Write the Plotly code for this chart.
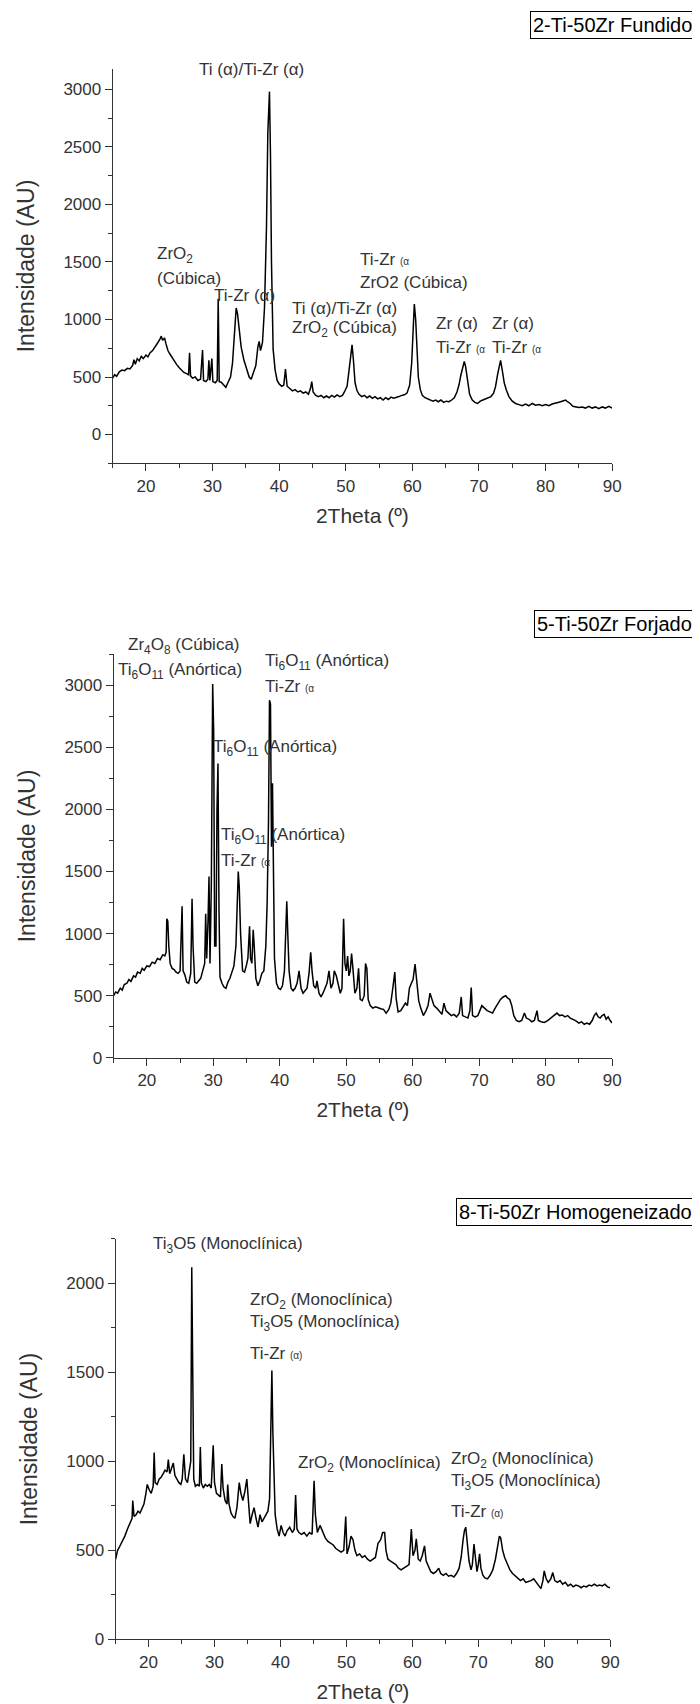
import plotly.graph_objects as go

# ---------------- data ----------------
tt_fundido = [15.0,15.3,15.6,16.0,16.4,16.8,17.2,17.6,18.0,18.2,18.4,18.7,19.0,19.3,19.6,20.0,20.3,20.6,21.0,21.4,21.8,22.1,22.3,22.5,22.8,23.0,23.3,23.6,24.0,24.3,24.6,25.0,25.3,25.7,26.1,26.4,26.55,26.7,27.0,27.4,27.8,28.2,28.5,28.65,29.0,29.3,29.45,29.6,29.9,30.05,30.4,30.7,30.85,31.0,31.3,31.7,32.0,32.3,32.7,33.0,33.3,33.55,33.75,34.0,34.3,34.7,35.1,35.5,35.8,36.2,36.5,36.8,37.0,37.2,37.5,37.8,38.1,38.3,38.45,38.55,38.7,38.85,39.1,39.4,39.7,40.0,40.4,40.7,40.95,41.2,41.6,42.0,42.4,42.8,43.2,43.6,44.0,44.4,44.7,44.9,45.1,45.5,45.9,46.3,46.7,47.1,47.5,47.9,48.3,48.7,49.1,49.5,49.8,50.2,50.5,50.8,50.95,51.15,51.4,51.7,52.0,52.4,52.8,53.2,53.6,54.0,54.4,54.8,55.2,55.6,56.0,56.4,56.8,57.2,57.6,58.0,58.4,58.8,59.2,59.6,59.9,60.15,60.3,60.5,60.7,60.9,61.2,61.5,61.9,62.3,62.7,63.1,63.5,63.9,64.3,64.7,65.1,65.5,65.9,66.3,66.7,67.0,67.3,67.6,67.8,68.0,68.3,68.6,69.0,69.4,69.8,70.2,70.6,71.0,71.4,71.8,72.2,72.5,72.8,73.1,73.25,73.5,73.8,74.1,74.5,75.0,75.5,76.0,76.5,77.0,77.5,78.0,78.5,79.0,79.5,80.0,80.5,81.0,81.5,82.0,82.5,83.0,83.3,83.7,84.1,84.5,85.0,85.5,86.0,86.5,87.0,87.5,88.0,88.5,89.0,89.5,90.0]
int_fundido = [490,520,505,545,560,555,575,570,600,650,610,660,640,680,660,690,675,710,730,760,800,830,855,820,840,790,730,700,660,630,610,580,560,540,530,520,710,510,490,500,470,480,735,470,460,480,645,470,660,460,450,470,1180,460,455,430,410,450,500,620,850,1100,1050,900,760,650,580,500,480,540,600,760,810,730,800,1100,1800,2620,2880,2980,2430,1500,740,560,470,440,420,430,570,420,400,380,390,370,380,360,370,350,400,460,370,340,330,340,320,335,320,340,325,345,330,340,370,420,560,700,780,650,450,380,350,330,340,320,335,315,330,310,320,300,320,305,325,315,320,330,340,345,360,430,620,950,1135,1000,700,500,390,340,320,310,300,290,300,285,300,280,290,285,300,320,370,430,520,600,635,590,450,350,300,280,270,290,300,310,320,330,360,420,520,620,645,560,450,390,330,290,270,260,250,265,250,270,255,260,250,260,250,265,270,280,290,300,285,270,245,240,235,240,230,245,230,240,225,240,230,245,230]

tt_forjado = [15.0,15.3,15.6,16.0,16.3,16.6,17.0,17.3,17.6,18.0,18.3,18.6,19.0,19.3,19.6,20.0,20.4,20.8,21.2,21.6,22.0,22.4,22.7,22.9,23.0,23.15,23.3,23.5,23.8,24.1,24.4,24.7,25.0,25.15,25.3,25.45,25.7,26.0,26.3,26.6,26.8,26.95,27.2,27.5,27.8,28.1,28.4,28.7,28.85,29.0,29.2,29.35,29.5,29.7,29.9,30.05,30.2,30.4,30.55,30.7,30.85,31.0,31.3,31.6,31.9,32.2,32.5,32.8,33.1,33.4,33.6,33.75,33.9,34.1,34.4,34.7,35.0,35.2,35.45,35.6,35.8,36.0,36.15,36.4,36.7,37.0,37.3,37.6,37.9,38.1,38.3,38.45,38.6,38.75,38.9,39.05,39.2,39.5,39.8,40.1,40.4,40.7,40.9,41.05,41.2,41.4,41.7,42.0,42.3,42.6,42.9,43.2,43.5,43.8,44.1,44.4,44.65,44.85,45.1,45.4,45.6,45.9,46.2,46.5,46.8,47.1,47.4,47.7,48.0,48.2,48.5,48.8,49.1,49.35,49.6,49.8,50.0,50.2,50.4,50.6,50.8,51.0,51.3,51.6,51.85,52.1,52.4,52.7,52.9,53.1,53.3,53.6,54.0,54.4,54.8,55.2,55.6,56.0,56.4,56.7,57.0,57.3,57.5,57.8,58.2,58.6,58.9,59.2,59.5,59.8,60.05,60.35,60.6,60.9,61.2,61.6,62.0,62.3,62.6,62.9,63.2,63.6,64.0,64.4,64.7,65.0,65.4,65.8,66.2,66.6,67.0,67.3,67.5,67.9,68.3,68.6,68.8,69.0,69.4,69.8,70.1,70.4,70.8,71.2,71.6,72.0,72.4,72.8,73.2,73.6,74.0,74.3,74.6,74.9,75.2,75.6,76.0,76.4,76.8,77.1,77.5,77.9,78.3,78.7,78.9,79.3,79.8,80.3,80.8,81.3,81.7,82.1,82.5,82.9,83.3,83.7,84.1,84.5,85.0,85.4,85.8,86.2,86.6,87.0,87.3,87.6,87.9,88.2,88.5,88.8,89.1,89.4,89.7,90.0]
int_forjado = [500,530,520,560,545,590,600,630,615,660,650,690,680,720,705,740,735,770,760,800,790,830,820,850,1120,1100,900,760,720,710,690,680,700,1050,1220,700,670,610,600,680,1280,900,610,600,620,640,700,760,1160,800,1100,1460,760,1400,3010,2640,900,900,2000,2370,1200,650,600,570,560,610,640,700,740,900,1250,1500,1380,1000,700,690,750,800,1060,800,760,1030,900,640,580,620,680,700,900,1250,1900,2880,2850,1700,2210,1500,800,600,560,550,580,700,1050,1261,1000,700,560,540,560,600,700,560,520,540,560,680,850,700,580,560,620,520,490,520,560,600,700,560,600,700,660,600,520,560,1120,760,700,820,660,700,840,720,520,560,720,470,460,500,760,720,470,420,400,410,400,395,390,360,390,440,560,690,480,370,380,420,440,420,560,600,630,755,610,460,400,340,380,420,520,460,420,400,370,350,440,380,360,340,350,330,360,490,340,330,320,380,565,340,330,340,380,420,400,380,370,360,400,440,470,490,500,480,470,420,340,300,290,300,360,320,310,290,300,380,300,290,285,300,320,340,360,340,345,330,340,320,310,300,280,290,270,280,270,300,340,360,330,320,340,350,310,330,300,280]

tt_homog = [15.0,15.3,15.6,16.0,16.4,16.8,17.2,17.5,17.6,17.8,18.1,18.4,18.7,19.0,19.3,19.6,19.8,20.1,20.4,20.7,20.85,21.0,21.3,21.6,21.9,22.2,22.5,22.8,23.0,23.2,23.5,23.75,24.0,24.3,24.6,24.9,25.1,25.35,25.6,25.9,26.2,26.4,26.55,26.7,26.85,27.1,27.4,27.7,27.85,28.0,28.3,28.6,28.9,29.2,29.5,29.8,30.0,30.3,30.6,30.9,31.1,31.3,31.6,31.9,32.0,32.2,32.5,32.8,33.1,33.4,33.75,34.0,34.3,34.6,34.9,35.15,35.4,35.7,36.0,36.3,36.6,36.9,37.2,37.5,37.8,38.1,38.35,38.55,38.7,38.85,39.0,39.2,39.5,39.8,40.1,40.4,40.7,41.0,41.4,41.8,42.1,42.3,42.5,42.8,43.2,43.6,44.0,44.4,44.8,45.1,45.3,45.6,46.0,46.4,46.8,47.2,47.6,48.0,48.4,48.8,49.2,49.6,49.9,50.1,50.4,50.7,51.0,51.3,51.6,52.0,52.4,52.8,53.2,53.6,54.0,54.4,54.8,55.2,55.5,55.8,56.0,56.3,56.7,57.1,57.5,57.9,58.3,58.7,59.1,59.5,59.85,60.1,60.4,60.6,60.9,61.2,61.5,61.85,62.1,62.4,62.8,63.2,63.6,64.0,64.3,64.7,65.1,65.5,65.9,66.3,66.7,67.1,67.4,67.7,67.9,68.1,68.3,68.6,68.9,69.1,69.35,69.6,69.8,70.0,70.2,70.4,70.7,71.0,71.4,71.8,72.2,72.6,72.9,73.2,73.4,73.7,74.0,74.4,74.8,75.2,75.6,76.0,76.4,76.8,77.2,77.6,78.0,78.4,78.8,79.2,79.5,79.8,80.0,80.3,80.6,81.0,81.3,81.6,82.0,82.4,82.8,83.2,83.6,84.0,84.4,84.8,85.2,85.6,86.0,86.4,86.8,87.2,87.6,88.0,88.4,88.8,89.2,89.6,90.0]
int_homog = [450,500,520,550,580,620,650,680,780,690,700,720,710,740,760,820,870,840,820,860,1050,880,870,900,910,930,950,940,1010,930,960,990,920,900,880,870,900,1040,900,880,960,1000,2090,1580,900,860,870,860,1080,880,850,870,860,870,850,1090,880,820,810,800,985,850,780,760,870,760,710,690,680,740,880,820,780,830,900,750,650,700,740,680,630,700,660,680,700,720,790,1300,1510,1160,900,700,620,580,640,600,580,610,630,600,620,810,620,600,590,600,580,600,590,890,700,600,640,600,570,550,540,530,510,500,490,500,690,480,520,580,560,500,470,480,460,470,450,440,450,460,540,560,600,600,500,450,440,430,420,400,390,400,410,420,620,470,500,565,450,440,470,525,440,410,380,370,380,400,370,360,370,355,360,350,370,400,460,560,610,630,540,440,390,420,535,440,380,420,480,400,360,345,340,360,390,450,510,580,570,500,460,420,390,370,355,345,330,340,320,325,330,340,320,300,285,330,385,340,320,340,375,330,320,330,310,320,300,310,295,305,300,290,300,295,305,300,310,300,305,300,310,295,290]

x_ticks = [20, 30, 40, 50, 60, 70, 80, 90]
panel_labels = ["2-Ti-50Zr Fundido", "5-Ti-50Zr Forjado", "8-Ti-50Zr Homogeneizado"]
x_title = "2Theta (º)"
y_title = "Intensidade (AU)"

# ---------------- figure ----------------
W, H = 700, 1704
FONT = "Liberation Sans, Arial, sans-serif"
TXT = "#333333"

fig = go.Figure()
series = [(tt_fundido, int_fundido), (tt_forjado, int_forjado), (tt_homog, int_homog)]
for i, (xs, ys) in enumerate(series):
    sfx = "" if i == 0 else str(i + 1)
    fig.add_trace(go.Scatter(x=xs, y=ys, mode="lines", xaxis="x" + sfx, yaxis="y" + sfx,
                             line=dict(color="black", width=1.5), showlegend=False,
                             hoverinfo="skip"))

def px_x(p):
    return p / W

def px_y(p):
    return 1 - p / H

# panel geometry in pixels: (left, right, top, bottom), y range
panels = [
    dict(l=106, r=612, t=61, b=458, yr=[-250, 3180], yt=[0, 500, 1000, 1500, 2000, 2500, 3000]),
    dict(l=107, r=612, t=650, b=1056, yr=[0, 3250], yt=[0, 500, 1000, 1500, 2000, 2500, 3000]),
    dict(l=109, r=610, t=1238, b=1641, yr=[0, 2250], yt=[0, 500, 1000, 1500, 2000]),
]

layout = dict(width=W, height=H, margin=dict(l=0, r=0, t=0, b=0),
              paper_bgcolor="white", plot_bgcolor="white",
              font=dict(family=FONT, color=TXT, size=17))

for i, p in enumerate(panels):
    sfx = "" if i == 0 else str(i + 1)
    layout["xaxis" + sfx] = dict(
        domain=[px_x(p["l"]), px_x(p["r"])], range=[15, 90], anchor="y" + sfx,
        tickvals=x_ticks, ticks="outside", ticklen=7, tickwidth=1, tickcolor=TXT,
        showline=True, linecolor=TXT, linewidth=1, showgrid=False, zeroline=False,
        minor=dict(dtick=5, tick0=15, ticks="outside", ticklen=4, tickcolor=TXT, showgrid=False),
        tickfont=dict(size=17, color=TXT),
        title=dict(text=x_title, font=dict(size=21, color=TXT), standoff=13))
    layout["yaxis" + sfx] = dict(
        domain=[px_y(p["b"]), px_y(p["t"])], range=p["yr"], anchor="x" + sfx,
        tickvals=p["yt"], ticks="outside", ticklen=7, tickwidth=1, tickcolor=TXT,
        showline=True, linecolor=TXT, linewidth=1, showgrid=False, zeroline=False,
        minor=dict(dtick=250, tick0=0, ticks="outside", ticklen=4, tickcolor=TXT, showgrid=False),
        tickfont=dict(size=17, color=TXT),
        title=dict(text=y_title, font=dict(size=23, color=TXT), standoff=22))

fig.update_layout(**layout)

# panel label boxes
box_y = [17, 620, 1211]
for lab, yc in zip(panel_labels, box_y):
    fig.add_annotation(text=lab, xref="paper", yref="paper", x=px_x(696), y=px_y(yc),
                       xanchor="right", yanchor="middle", showarrow=False,
                       font=dict(size=20, color="black", family=FONT),
                       bordercolor="black", borderwidth=1, borderpad=2, bgcolor="white")

small = "<span style='font-size:10px'>(α</span>"
small_c = "<span style='font-size:10px'>(α)</span>"

# (panel index, text, 2theta, intensity, xanchor)
peak_labels = [
    (0, "Ti (α)/Ti-Zr (α)", 35.9, 3171, "center"),
    (0, "ZrO<sub>2</sub>", 21.3, 1560, "left"),
    (0, "(Cúbica)", 21.3, 1356, "left"),
    (0, "Ti-Zr (α)", 29.9, 1210, "left"),
    (0, "Ti (α)/Ti-Zr (α)", 41.6, 1097, "left"),
    (0, "ZrO<sub>2</sub> (Cúbica)", 41.6, 916, "left"),
    (0, "Ti-Zr " + small, 51.8, 1521, "left"),
    (0, "ZrO2 (Cúbica)", 51.8, 1322, "left"),
    (0, "Zr (α)", 63.3, 968, "left"),
    (0, "Ti-Zr " + small, 63.3, 760, "left"),
    (0, "Zr (α)", 71.7, 968, "left"),
    (0, "Ti-Zr " + small, 71.7, 760, "left"),
    (1, "Zr<sub>4</sub>O<sub>8</sub> (Cúbica)", 25.6, 3312, "center"),
    (1, "Ti<sub>6</sub>O<sub>11</sub> (Anórtica)", 25.0, 3112, "center"),
    (1, "Ti<sub>6</sub>O<sub>11</sub> (Anórtica)", 37.5, 3184, "left"),
    (1, "Ti-Zr " + small, 37.5, 2992, "left"),
    (1, "Ti<sub>6</sub>O<sub>11</sub> (Anórtica)", 29.7, 2496, "left"),
    (1, "Ti<sub>6</sub>O<sub>11</sub> (Anórtica)", 30.8, 1784, "left"),
    (1, "Ti-Zr " + small, 30.8, 1592, "left"),
    (2, "Ti<sub>3</sub>O5 (Monoclínica)", 20.3, 2216, "left"),
    (2, "ZrO<sub>2</sub> (Monoclínica)", 35.1, 1898, "left"),
    (2, "Ti<sub>3</sub>O5 (Monoclínica)", 35.1, 1775, "left"),
    (2, "Ti-Zr " + small_c, 35.1, 1608, "left"),
    (2, "ZrO<sub>2</sub> (Monoclínica)", 42.3, 983, "left"),
    (2, "ZrO<sub>2</sub> (Monoclínica)", 65.6, 1005, "left"),
    (2, "Ti<sub>3</sub>O5 (Monoclínica)", 65.6, 882, "left"),
    (2, "Ti-Zr " + small_c, 65.6, 720, "left"),
]

def to_paper(pi, xv, yv):
    p = panels[pi]
    fx = (xv - 15) / 75.0
    fy = (yv - p["yr"][0]) / (p["yr"][1] - p["yr"][0])
    xpix = p["l"] + fx * (p["r"] - p["l"])
    ypix = p["b"] - fy * (p["b"] - p["t"])
    return px_x(xpix), px_y(ypix)

for pi, txt, xv, yv, xa in peak_labels:
    xp, yp = to_paper(pi, xv, yv)
    fig.add_annotation(text=txt, xref="paper", yref="paper", x=xp, y=yp,
                       xanchor=xa, yanchor="middle", showarrow=False,
                       font=dict(size=17, color=TXT, family=FONT))

fig.write_html("out.html")
